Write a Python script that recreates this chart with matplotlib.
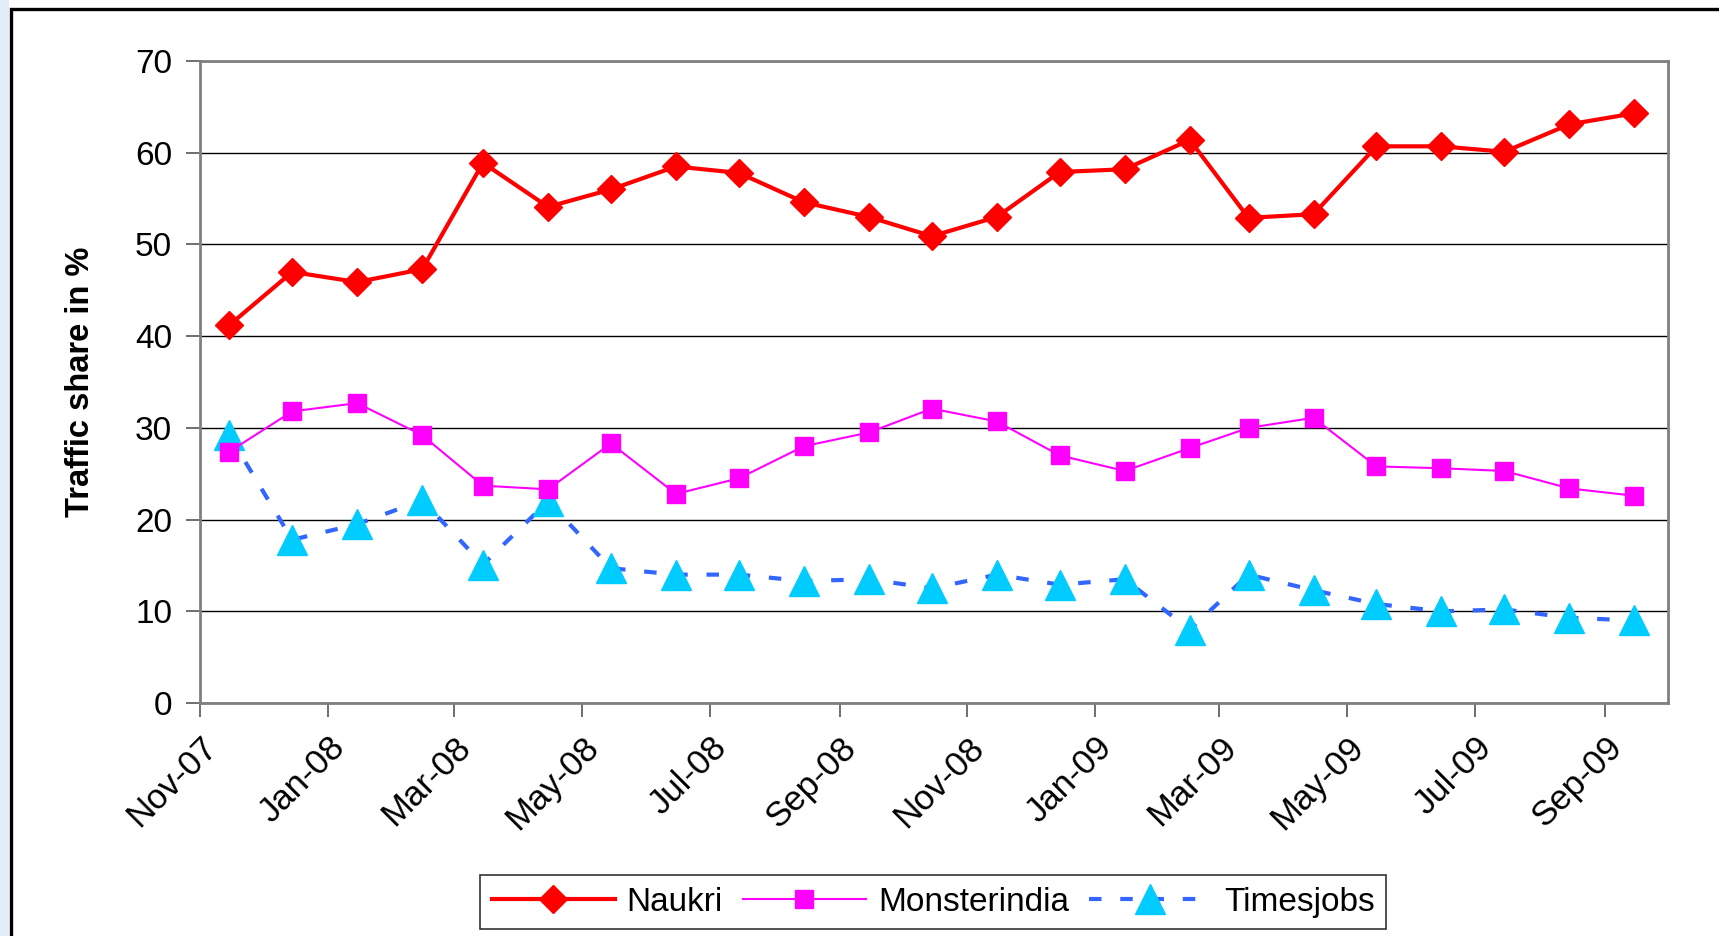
import datetime as dt
import matplotlib
matplotlib.use('Agg')
import matplotlib.pyplot as plt
import matplotlib.dates as mdates
from matplotlib.patches import Rectangle

plt.rcParams['font.family'] = ['Liberation Sans', 'DejaVu Sans']

# monthly observations, Nov-07 .. Sep-09 (mid-month)
months = [(2007, 11), (2007, 12)] + [(2008, m) for m in range(1, 13)] + [(2009, m) for m in range(1, 10)]
dates = [dt.date(y, m, 15) for (y, m) in months]

naukri = [41.2, 47.0, 45.9, 47.3, 58.9, 54.1, 56.0, 58.5, 57.8, 54.6, 53.0, 50.9,
          53.0, 57.9, 58.2, 61.4, 52.9, 53.3, 60.7, 60.7, 60.1, 63.1, 64.3]
monster = [27.4, 31.8, 32.7, 29.2, 23.7, 23.3, 28.3, 22.8, 24.5, 28.0, 29.5, 32.1,
           30.7, 27.0, 25.3, 27.8, 30.0, 31.1, 25.8, 25.6, 25.3, 23.4, 22.6]
timesjobs = [29.2, 17.8, 19.5, 22.1, 15.1, 22.0, 14.7, 14.0, 14.0, 13.3, 13.5, 12.5,
             14.0, 12.9, 13.5, 8.0, 14.0, 12.3, 10.8, 10.0, 10.2, 9.3, 9.0]

fig = plt.figure(figsize=(17.19, 9.36), dpi=100)
ax = fig.add_axes([0.1163, 0.2489, 0.8540, 0.6859])

# frame and left strip like the pasted excel chart
fig.patches.append(Rectangle((0, 0), 0.0055, 1, transform=fig.transFigure,
                             facecolor='#e4eef8', edgecolor='none', zorder=0))
fig.patches.append(Rectangle((0.0066, -0.1), 1.2, 1.0905, transform=fig.transFigure,
                             facecolor='none', edgecolor='black', lw=2.4, zorder=5))

ax.plot(dates, naukri, color='#ff0000', lw=3, marker='D', ms=14, mec='#ff0000',
        label='Naukri', zorder=4)
ax.plot(dates, monster, color='#ff00ff', lw=1.5, marker='s', ms=13, mec='#ff00ff',
        label='Monsterindia', zorder=3)
ax.plot(dates, timesjobs, color='#3366ff', lw=3, ls=(0, (3, 4.5)), marker='^', ms=22,
        mfc='#00ccff', mec='#00ccff', label='Timesjobs', zorder=2)

ax.set_xlim(dt.date(2007, 11, 1), dt.date(2009, 10, 1))
ax.set_ylim(0, 70)
ax.set_yticks(range(0, 71, 10))
ax.yaxis.grid(True, color='#000000', lw=1)
ax.set_axisbelow(True)
ax.xaxis.set_major_locator(mdates.MonthLocator(bymonth=[1, 3, 5, 7, 9, 11]))
ax.xaxis.set_major_formatter(mdates.DateFormatter('%b-%y'))
for lbl in ax.get_xticklabels():
    lbl.set_rotation(45)
    lbl.set_ha('right')
    lbl.set_rotation_mode('anchor')
ax.tick_params(axis='y', labelsize=24, length=10, width=1.2, color='#555555', pad=10)
ax.tick_params(axis='x', labelsize=25, length=10, width=1.2, color='#555555', pad=10)
for s in ax.spines.values():
    s.set_color('#808080')
    s.set_linewidth(2)

ax.set_ylabel('Traffic share in %', fontsize=23.5, fontweight='bold', labelpad=28)

leg = fig.legend(loc='center', bbox_to_anchor=(0.5428, 0.0363), ncol=3, fontsize=24,
                 frameon=True, fancybox=False, edgecolor='black', handlelength=3.7,
                 handletextpad=0.35, columnspacing=0.6, borderpad=0.35)
leg.get_frame().set_linewidth(1.2)

fig.savefig('out.png', dpi=100)
